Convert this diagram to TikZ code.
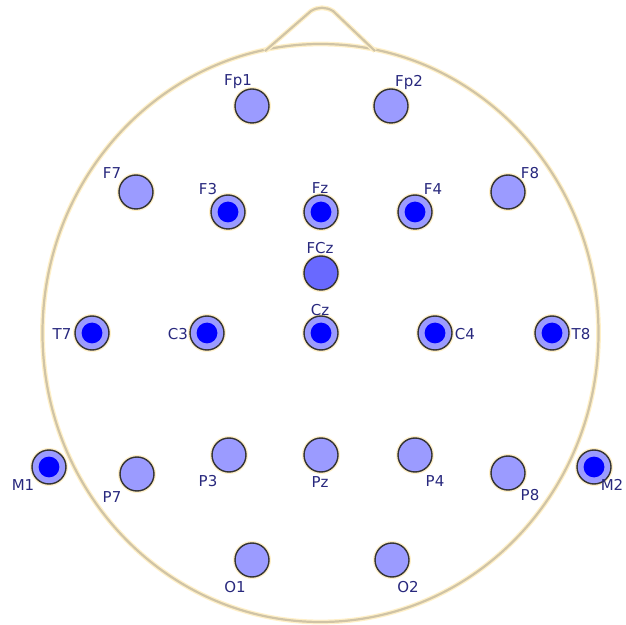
\documentclass[tikz,border=0pt]{standalone}
\usepackage{fontspec}
\setmainfont{DejaVu Sans}
\definecolor{skin}{RGB}{208,196,166}
\definecolor{halo}{RGB}{255,240,200}
\definecolor{padfill}{RGB}{155,155,255}
\definecolor{refill}{RGB}{105,105,255}
\definecolor{dotblue}{RGB}{0,0,255}
\definecolor{labblue}{RGB}{40,40,125}
\tikzset{
  pad/.style={circle,draw=black!80,line width=0.7pt,fill=padfill,minimum size=17pt,inner sep=0pt,
    preaction={draw=halo,line width=2pt}},
  padref/.style={pad,fill=refill},
  padon/.style={pad,path picture={\fill[dotblue] (path picture bounding box.center) circle (5.2pt);}},
  lab/.style={text=labblue,font=\fontsize{7.5}{8}\selectfont,inner sep=0pt}
}
\begin{document}
\begin{tikzpicture}[x=0.5pt,y=-0.5pt]
\useasboundingbox (0,0) rectangle (626,625);
% head and nose
\draw[halo,line width=2.4pt] (320.5,333) ellipse [x radius=278,y radius=289];
\draw[skin,line width=1.1pt] (320.5,333) ellipse [x radius=278,y radius=289];
\draw[halo,line width=2.4pt,line join=round] (265,51) -- (311,11) to[out=30,in=150] (333,11) -- (375,51);
\draw[skin,line width=1.1pt,line join=round] (265,51) -- (311,11) to[out=30,in=150] (333,11) -- (375,51);
% electrodes
\node[pad] (Fp1) at (252,106) {};
\node[pad] (Fp2) at (391,106) {};
\node[pad] (F7) at (136,192) {};
\node[padon] (F3) at (228,212) {};
\node[padon] (Fz) at (321,212) {};
\node[padon] (F4) at (415,212) {};
\node[pad] (F8) at (508,192) {};
\node[padref] (FCz) at (321,273) {};
\node[padon] (T7) at (92,333) {};
\node[padon] (C3) at (207,333) {};
\node[padon] (Cz) at (321,333) {};
\node[padon] (C4) at (435,333) {};
\node[padon] (T8) at (552,333) {};
\node[padon] (M1) at (49,467) {};
\node[pad] (P7) at (137,474) {};
\node[pad] (P3) at (229,455) {};
\node[pad] (Pz) at (321,455) {};
\node[pad] (P4) at (415,455) {};
\node[pad] (P8) at (508,473) {};
\node[padon] (M2) at (594,467) {};
\node[pad] (O1) at (252,560) {};
\node[pad] (O2) at (392,560) {};
% labels
\node[lab] (lFp1) at (238,82) {Fp1};
\node[lab] (lFp2) at (409,82) {Fp2};
\node[lab] (lF7) at (112,173) {F7};
\node[lab] (lF3) at (208,189) {F3};
\node[lab] (lFz) at (320,188) {Fz};
\node[lab] (lF4) at (433,189) {F4};
\node[lab] (lF8) at (530,173) {F8};
\node[lab] (lFCz) at (320,248) {FCz};
\node[lab] (lT7) at (62,334) {T7};
\node[lab] (lC3) at (178,334) {C3};
\node[lab] (lCz) at (320,310) {Cz};
\node[lab] (lC4) at (465,334) {C4};
\node[lab] (lT8) at (581,334) {T8};
\node[lab] (lM1) at (23,485) {M1};
\node[lab] (lP7) at (112,497) {P7};
\node[lab] (lP3) at (208,481) {P3};
\node[lab] (lPz) at (320,482) {Pz};
\node[lab] (lP4) at (435,481) {P4};
\node[lab] (lP8) at (530,495) {P8};
\node[lab] (lM2) at (612,485) {M2};
\node[lab] (lO1) at (235,587) {O1};
\node[lab] (lO2) at (408,587) {O2};
\end{tikzpicture}
\end{document}
